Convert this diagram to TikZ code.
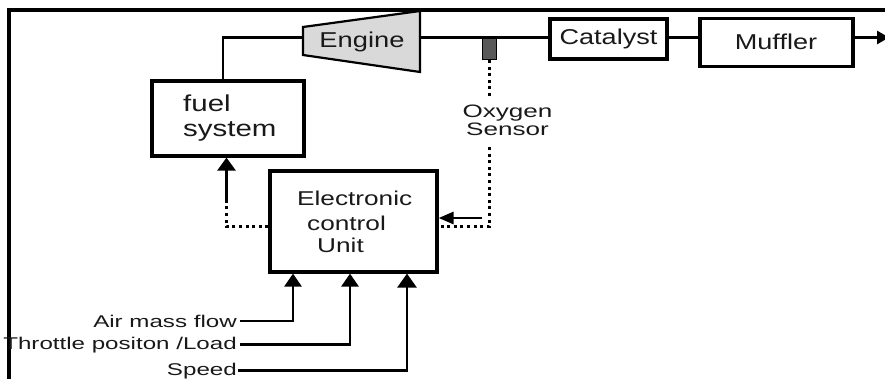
\documentclass[tikz,border=0pt]{standalone}
\usepackage{fontspec}
\setmainfont{Liberation Sans}
\usetikzlibrary{arrows.meta,calc}
\newcommand{\T}[3]{\fontsize{#1pt}{#1pt}\selectfont\scalebox{#2}[1]{#3}}
\begin{document}
\begin{tikzpicture}[x=1pt,y=-1pt,
  conn/.style={line width=2.8pt,line cap=butt},
  dotline/.style={line width=3pt,dash pattern=on 3pt off 3.6pt},
  tip/.style={-{Triangle[width=17pt,length=13pt]}},
  bigtip/.style={-{Triangle[width=19pt,length=14pt]}},
  thintip/.style={-{Triangle[width=12pt,length=15pt]}},
  box/.style={draw=black,line width=3.2pt,fill=white,inner sep=0pt},
  lbl/.style={inner sep=0pt,anchor=base,text=black!90}]
\useasboundingbox (0,0) rectangle (885,379);
% frame
\draw[line width=3.8pt] (8.7,381) -- (8.7,10) -- (887,10);
% engine
\draw[line width=2.2pt,fill=gray!30] (303,27) -- (420,11) -- (420,72) -- (303,55) -- cycle;
\coordinate (engW) at (303,37.5);
\coordinate (engE) at (420,37.5);
\node[lbl] (engine) at (362,48) {\T{21.5}{1.27}{Engine}};
% boxes
\node[box,minimum width=152pt,minimum height=75pt] (fuel) at (228,118.5) {};
\node[box,minimum width=167pt,minimum height=101pt] (ecu) at (353.5,221.5) {};
\node[box,minimum width=117pt,minimum height=40pt] (cat) at (608.5,39) {};
\node[box,minimum width=153pt,minimum height=48pt] (muf) at (776.5,42.5) {};
\node[draw=black,line width=1pt,fill=black!65,minimum width=14pt,minimum height=22pt,inner sep=0pt] (o2) at (489,48.5) {};
% texts
\node[lbl,anchor=base west] (fuelA) at (183,112) {\T{23}{1.28}{fuel}};
\node[lbl,anchor=base west] (fuelB) at (183,137) {\T{23}{1.28}{system}};
\node[lbl,anchor=base west] (ecuA) at (297,206) {\T{20}{1.31}{Electronic}};
\node[lbl,anchor=base west] (ecuB) at (307,230) {\T{20}{1.31}{control}};
\node[lbl,anchor=base west] (ecuC) at (317,252) {\T{20}{1.31}{Unit}};
\node[lbl] (catT) at (608.5,45) {\T{21.5}{1.26}{Catalyst}};
\node[lbl] (mufT) at (776,50) {\T{21.5}{1.26}{Muffler}};
\node[lbl] (oxyA) at (507.5,117.5) {\T{18}{1.45}{Oxygen}};
\node[lbl] (oxyB) at (507.5,136) {\T{18}{1.45}{Sensor}};
\node[lbl,anchor=base east] (air) at (237,327) {\T{17}{1.42}{Air mass flow}};
\node[lbl,anchor=base east] (thr) at (237,349) {\T{17}{1.42}{Throttle positon /Load}};
\node[lbl,anchor=base east] (spd) at (237,375) {\T{17}{1.42}{Speed}};
% intake / fuel line
\coordinate (fk) at (223,37.5);
\draw[conn] (engW) -- (fk) -- (fk |- fuel.north);
% exhaust line
\coordinate (exit) at (889,37.5);
\draw[conn] (engE) -- (engE -| cat.west);
\draw[conn] (cat.east |- engE) -- (muf.west |- engE);
\draw[conn,-{Triangle[width=13pt,length=12pt]}] (muf.east |- engE) -- (exit);
% oxygen sensor signal
\coordinate (d1) at (489,97);
\coordinate (d2) at (489,147);
\coordinate (d3) at (489,227);
\draw[dotline] (o2.south) -- (d1);
\draw[dotline] (d2) -- (d3) -- (d3 -| ecu.east);
\coordinate (sa) at (482,218);
\draw[conn,thintip] (sa) -- (sa -| ecu.east);
% ECU to fuel system
\coordinate (l1) at (226.5,227);
\coordinate (l2) at (226.5,203);
\draw[dotline] (l1 -| ecu.west) -- (l1) -- (l2);
\draw[conn,-{Triangle[width=18pt,length=13pt]}] (l2) -- (l2 |- fuel.south);
% inputs
\draw[conn,tip] ([xshift=3pt]air.east) -| ($(ecu.south)+(-60.5,0)$);
\draw[conn,tip] ([xshift=3pt]thr.east) -| ($(ecu.south)+(-3.5,0)$);
\draw[conn,bigtip] ([xshift=1pt]spd.east) -| ($(ecu.south)+(53.5,0)$);
\end{tikzpicture}
\end{document}
